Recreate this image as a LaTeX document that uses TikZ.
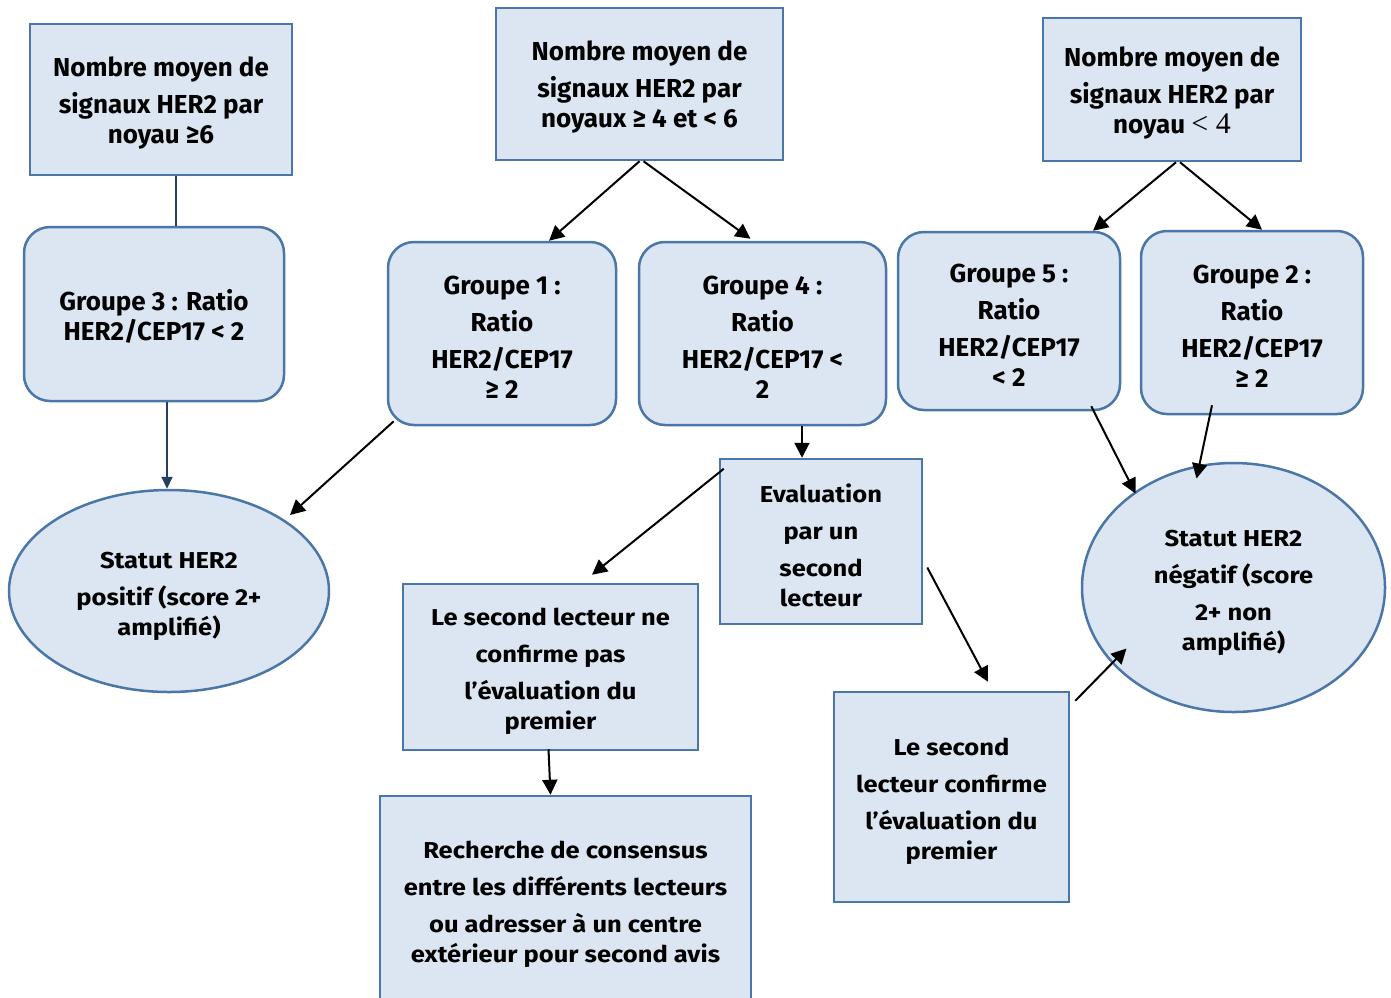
\documentclass[tikz,border=0pt]{standalone}
\usepackage{fontspec}
\setmainfont{Fira Sans}
\newfontfamily\condf{Fira Sans}[FakeStretch=1.11]
\newfontfamily\serifr{Liberation Serif}
\usetikzlibrary{arrows.meta,calc,shapes.geometric}
\definecolor{boxfill}{HTML}{DCE6F2}
\definecolor{boxline}{HTML}{4A76A8}
\definecolor{navy}{HTML}{243F60}
\newcommand\topstrut{\rule{0pt}{26.5pt}}
\begin{document}
\begin{tikzpicture}[x=1pt,y=-1pt,
  base/.style={fill=boxfill,draw=boxline,line width=2.5pt,align=center,inner sep=0pt,
    font=\bfseries\fontsize{26}{37}\selectfont},
  rectbox/.style={base,rectangle},
  roundbox/.style={base,rectangle,rounded corners=26pt},
  ellbox/.style={base,ellipse},
  cond/.style={font=\condf\bfseries\fontsize{23}{37}\selectfont},
  arr/.style={-{Triangle[length=15pt,width=15pt]},line width=2pt,black},
  navyarr/.style={-{Triangle[length=12pt,width=11pt]},line width=2pt,navy},
  navyline/.style={line width=2pt,navy}]
\useasboundingbox (0,0) rectangle (1391,997);
\clip (0,0) rectangle (1391,997);

% left column
\node[rectbox,minimum width=262pt,minimum height=151pt] (A1) at (161,99.5)
  {\topstrut Nombre moyen de\\signaux HER2 par\\[-7pt]noyau ≥6};
\node[roundbox,minimum width=260pt,minimum height=174pt] (A2) at (154,314)
  {\topstrut Groupe 3 : Ratio\\[-7pt]HER2/CEP17 < 2};
\node[ellbox,cond,minimum width=320pt,minimum height=202pt] (EL) at (169,591)
  {\topstrut Statut HER2\\positif (score 2+\\[-7pt]amplifié)};

% middle column
\node[rectbox,minimum width=287pt,minimum height=152pt] (B1) at (639.5,84)
  {\topstrut Nombre moyen de\\signaux HER2 par\\[-7pt]noyaux ≥ 4 et < 6};
\node[roundbox,minimum width=228pt,minimum height=183pt] (G1) at (502,333.5)
  {\topstrut Groupe 1 :\\Ratio\\HER2/CEP17\\[-7pt]≥ 2};
\node[roundbox,minimum width=247pt,minimum height=183pt] (G4) at (762.5,333.5)
  {\topstrut Groupe 4 :\\Ratio\\HER2/CEP17 <\\[-7pt]2};
\node[rectbox,cond,minimum width=202pt,minimum height=165pt] (EV) at (821,541.5)
  {\topstrut Evaluation\\par un\\second\\[-7pt]lecteur};
\node[rectbox,cond,minimum width=295pt,minimum height=166pt] (NC) at (550.5,667)
  {\topstrut Le second lecteur ne\\confirme pas\\l’évaluation du\\[-7pt]premier};
\node[rectbox,cond,minimum width=371pt,minimum height=207pt] (RC) at (565.5,899.5)
  {\topstrut Recherche de consensus\\entre les différents lecteurs\\ou adresser à un centre\\[-7pt]extérieur pour second avis};
\node[rectbox,cond,minimum width=235pt,minimum height=210pt] (LS) at (951.5,797)
  {\topstrut Le second\\lecteur confirme\\l’évaluation du\\[-7pt]premier};

% right column
\node[rectbox,minimum width=258pt,minimum height=143pt] (C1) at (1172,89.5)
  {\topstrut Nombre moyen de\\signaux HER2 par\\[-7pt]noyau {\serifr\mdseries\fontsize{30}{30}\selectfont < 4}};
\node[roundbox,minimum width=222pt,minimum height=178pt] (G5) at (1009,321)
  {\topstrut Groupe 5 :\\Ratio\\HER2/CEP17\\[-7pt]< 2};
\node[roundbox,minimum width=222pt,minimum height=183pt] (G2) at (1252,322.5)
  {\topstrut Groupe 2 :\\Ratio\\HER2/CEP17\\[-7pt]≥ 2};
\node[ellbox,cond,minimum width=303pt,minimum height=249pt] (ER) at (1233.5,587.5)
  {\topstrut Statut HER2\\négatif (score\\2+ non\\[-7pt]amplifié)};

% connectors
\draw[navyline] ([shift={(15,0)}]A1.south) -- ([shift={(15,0)}]A1.south |- A2.north);
\draw[navyarr] ([shift={(-2,0)}]A2.south -| EL.north) -- ([shift={(-2,0)}]EL.north);
\draw[arr] (B1.south) -- ([shift={(47,0)}]G1.north);
\draw[arr] ([shift={(4,0)}]B1.south) -- ([shift={(-12,-2)}]G4.north);
\draw[arr] ([shift={(7,-5)}]G1.south west) -- ([shift={(121,-76)}]EL.center);
\draw[arr] ([shift={(-19,0)}]EV.north |- G4.south) -- ([shift={(-19,0)}]EV.north);
\draw[arr] ([shift={(5,11)}]EV.north west) -- ([shift={(41.5,-8)}]NC.north);
\draw[arr] ([shift={(-2,-2)}]NC.south) -- ([shift={(-15,0)}]RC.north);
\draw[arr] ([shift={(4,26)}]EV.east) -- ([shift={(36.5,-9)}]LS.north);
\draw[arr] ([shift={(5,10)}]LS.north east) -- ([shift={(-107,61)}]ER.center);
\draw[arr] ([shift={(4,0)}]C1.south) -- ([shift={(84,0)}]G5.north);
\draw[arr] ([shift={(8,0)}]C1.south) -- ([shift={(10,0)}]G2.north);
\draw[arr] ([shift={(-30,-5)}]G5.south east) -- ([shift={(-98,-94)}]ER.center);
\draw[arr] ([shift={(-40,-10)}]G2.south) -- ([shift={(-37,-109)}]ER.center);
\end{tikzpicture}
\end{document}
